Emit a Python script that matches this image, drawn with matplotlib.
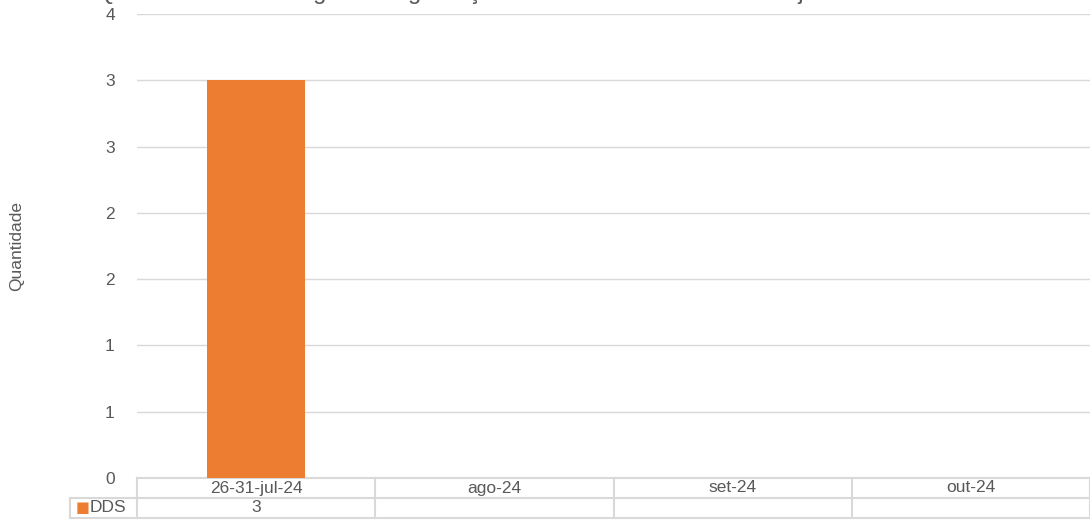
import numpy as np
import matplotlib.pyplot as plt

plt.rcParams['font.family'] = ['Liberation Sans', 'DejaVu Sans']

categorias = ['26-31-jul-24', 'ago-24', 'set-24', 'out-24']
dds = [3, None, None, None]
serie = 'DDS'
titulo = 'Quantidade de Diálogo de Segurança - MÊS A MÊS - DDS - Julho/jul - Atual'

cor_barra = '#ED7D31'
cor_grade = '#d9d9d9'
cor_texto = '#595959'
fs = 12.5

fig = plt.figure(figsize=(10.9, 5.3), dpi=100)
ax = fig.add_axes([137 / 1090, 52 / 530, 953 / 1090, 464 / 530])

x = np.arange(len(categorias))
valores = [v if v is not None else 0 for v in dds]
ax.bar(x, valores, width=0.41, color=cor_barra, zorder=3)

ax.set_xlim(-0.5, len(categorias) - 0.5)
ax.set_ylim(0, 3.5)
yt = np.arange(0, 3.51, 0.5)
ax.set_yticks(yt)
ax.set_yticklabels([str(int(np.floor(v + 0.5))) for v in yt])
ax.tick_params(axis='y', length=0, pad=16, labelsize=fs, labelcolor=cor_texto)
ax.set_xticks([])
ax.grid(axis='y', color=cor_grade, linewidth=1, zorder=0)
for s in ax.spines.values():
    s.set_visible(False)

ax.set_ylabel('Quantidade', fontsize=fs, color=cor_texto, labelpad=58)

# tabela de dados
trans = ax.get_xaxis_transform()
h = 20 / 464
lw = 1.5
kw = dict(color=cor_grade, linewidth=lw, transform=trans, clip_on=False)
x0 = -0.5
x1 = len(categorias) - 0.5
xl = -0.5 - (137 - 70) / (953 / len(categorias))
ax.plot([x0, x1], [0, 0], **kw)
ax.plot([x0, x1], [-h, -h], **kw)
ax.plot([xl, x0], [-h, -h], **kw)
ax.plot([xl, x1], [-2 * h, -2 * h], **kw)
ax.plot([xl, xl], [-h, -2 * h], **kw)
for i in range(len(categorias) + 1):
    ax.plot([x0 + i, x0 + i], [0, -2 * h], **kw)

for i, c in enumerate(categorias):
    ax.text(i, -h / 2, c, transform=trans, ha='center', va='center',
            fontsize=fs, color=cor_texto)
    if dds[i] is not None:
        ax.text(i, -1.5 * h, str(dds[i]), transform=trans, ha='center',
                va='center', fontsize=fs, color=cor_texto)

ax.text(xl + 0.025, -1.5 * h, '\u25A0', transform=trans, ha='left', va='center',
        fontsize=10.5, color=cor_barra, family='DejaVu Sans')
ax.text(xl + 0.083, -1.5 * h, serie, transform=trans, ha='left', va='center',
        fontsize=fs, color=cor_texto)

fig.text(0.455, 1 + 1.5 / 530, titulo, ha='center', va='baseline',
         fontsize=17, color=cor_texto)

fig.savefig('out.png', dpi=100)
